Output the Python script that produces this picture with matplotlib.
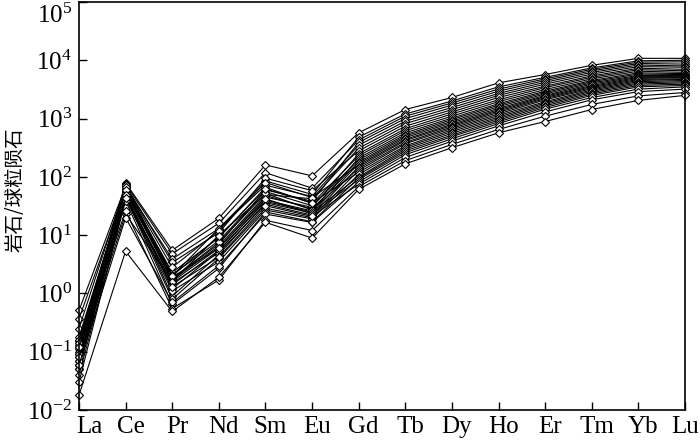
import matplotlib
matplotlib.use("Agg")
import matplotlib.pyplot as plt
import matplotlib.transforms as mtransforms
from matplotlib.ticker import FixedLocator, FixedFormatter

plt.rcParams['font.family'] = ['Liberation Serif', 'Noto Sans CJK SC']
plt.rcParams['mathtext.fontset'] = 'custom'
plt.rcParams['mathtext.rm'] = 'Liberation Serif'
plt.rcParams['mathtext.it'] = 'Liberation Serif'

elements = ['La', 'Ce', 'Pr', 'Nd', 'Sm', 'Eu', 'Gd', 'Tb', 'Dy', 'Ho', 'Er', 'Tm', 'Yb', 'Lu']

# chondrite-normalised values, one row per sample
samples = [
    [0.12, 79, 5.5, 19.5, 160, 104, 570, 1430, 2300, 4100, 5700, 8200, 10800, 10800],
    [0.51, 70, 2.0, 13, 85, 50, 480, 1200, 2000, 3500, 5100, 7400, 9800, 10000],
    [0.09, 75, 4.8, 16, 118, 64, 430, 1100, 1850, 3200, 4800, 7000, 9300, 9400],
    [0.37, 62, 1.8, 7.0, 60, 38, 390, 1000, 1700, 2950, 4500, 6600, 8800, 8600],
    [0.15, 66, 3.9, 13, 72, 46, 350, 900, 1550, 2700, 4200, 6200, 8300, 8000],
    [0.06, 58, 1.6, 10, 50, 42, 310, 820, 1420, 2500, 3900, 5800, 7800, 7600],
    [0.25, 72, 3.4, 11, 95, 58, 280, 740, 1300, 2300, 3600, 5400, 7300, 7000],
    [0.05, 55, 1.9, 6.0, 45, 30, 250, 670, 1200, 2100, 3400, 5100, 6900, 6600],
    [0.18, 61, 2.3, 9.0, 66, 35, 230, 620, 1100, 1950, 3150, 4800, 6500, 6200],
    [0.07, 52, 1.2, 5.3, 40, 26, 210, 570, 1020, 1800, 2950, 4500, 6100, 5900],
    [0.11, 63, 2.1, 8.0, 56, 32, 195, 530, 960, 1700, 2800, 4300, 5800, 5700],
    [0.13, 57, 1.7, 6.5, 48, 28, 180, 500, 900, 1600, 2650, 4100, 5500, 5500],
    [0.08, 50, 0.9, 4.6, 36, 24, 170, 470, 850, 1500, 2500, 3900, 5300, 5300],
    [0.16, 68, 2.8, 12, 80, 44, 160, 440, 800, 1420, 2400, 3700, 5100, 5100],
    [0.06, 47, 1.5, 5.0, 34, 22, 150, 420, 760, 1350, 2300, 3550, 4900, 5000],
    [0.10, 53, 1.8, 7.5, 52, 27, 140, 390, 720, 1280, 2200, 3400, 4700, 4800],
    [0.05, 45, 0.8, 4.0, 29, 20, 130, 370, 680, 1200, 2100, 3250, 4500, 4700],
    [0.14, 60, 2.0, 9.5, 62, 36, 120, 340, 640, 1130, 1950, 3100, 4300, 4500],
    [0.07, 42, 1.1, 3.5, 27, 19, 110, 320, 600, 1060, 1850, 2950, 4100, 4300],
    [0.09, 48, 1.4, 5.5, 38, 25, 100, 300, 560, 1000, 1750, 2800, 3900, 4100],
    [0.04, 39, 0.65, 2.7, 25, 17, 95, 280, 520, 940, 1650, 2650, 3700, 3900],
    [0.08, 23, 1.6, 6.0, 42, 23, 90, 260, 490, 880, 1550, 2500, 3500, 3700],
    [0.06, 20, 0.7, 3.0, 23, 16.5, 82, 240, 450, 820, 1450, 2300, 3200, 3500],
    [0.03, 44, 1.3, 4.2, 32, 21, 75, 215, 410, 750, 1300, 2100, 2900, 3200],
    [0.12, 26, 0.55, 1.7, 18, 12, 68, 190, 360, 650, 1100, 1750, 2450, 2800],
    [0.018, 5.3, 0.49, 1.9, 16.6, 8.9, 61, 167, 316, 570, 890, 1430, 2050, 2500],
]

y_ticks = [1e-2, 1e-1, 1e0, 1e1, 1e2, 1e3, 1e4, 1e5]
y_labels = ['$10^{-2}$', '$10^{-1}$', '$10^{0}$', '$10^{1}$', '$10^{2}$', '$10^{3}$', '$10^{4}$', '$10^{5}$']

fig = plt.figure(figsize=(7, 4.42), dpi=100)
ax = fig.add_axes([79 / 700, 32 / 442, 606 / 700, 408 / 442])

x = list(range(len(elements)))
for row in samples:
    ax.plot(x, row, color='black', linewidth=0.8, marker='D', markersize=4.5,
            markerfacecolor='white', markeredgecolor='black', markeredgewidth=0.8,
            clip_on=False)

ax.set_yscale('log')
ax.set_ylim(1e-2, 1e5)
ax.set_xlim(0, len(elements) - 1)
ax.yaxis.set_major_locator(FixedLocator(y_ticks))
ax.yaxis.set_major_formatter(FixedFormatter(y_labels))
ax.yaxis.set_minor_locator(FixedLocator([]))
ax.set_xticks(x)
ax.set_xticklabels(elements)

ax.tick_params(direction='in', length=6, width=1, pad=4)
ax.tick_params(axis='x', labelsize=18)
ax.tick_params(axis='y', labelsize=18, pad=5)
for s in ax.spines.values():
    s.set_linewidth(1.2)

# labels in the original sit a little right of their ticks
n = len(elements)
for i, lab in enumerate(ax.get_xticklabels()):
    dx = 10 if i == 0 else (0 if i == n - 1 else 5)
    lab.set_transform(lab.get_transform() +
                      mtransforms.ScaledTranslation(dx / 100, 0, fig.dpi_scale_trans))

top_lab = ax.get_yticklabels()[-1]
top_lab.set_verticalalignment('top')
top_lab.set_transform(top_lab.get_transform() +
                      mtransforms.ScaledTranslation(0, -2 / 100, fig.dpi_scale_trans))

ax.set_ylabel('岩石/球粒陨石', fontsize=14, family=['Noto Sans CJK SC'])
ax.yaxis.set_label_coords(-0.089, 0.54)

fig.savefig('out.png', dpi=100)
